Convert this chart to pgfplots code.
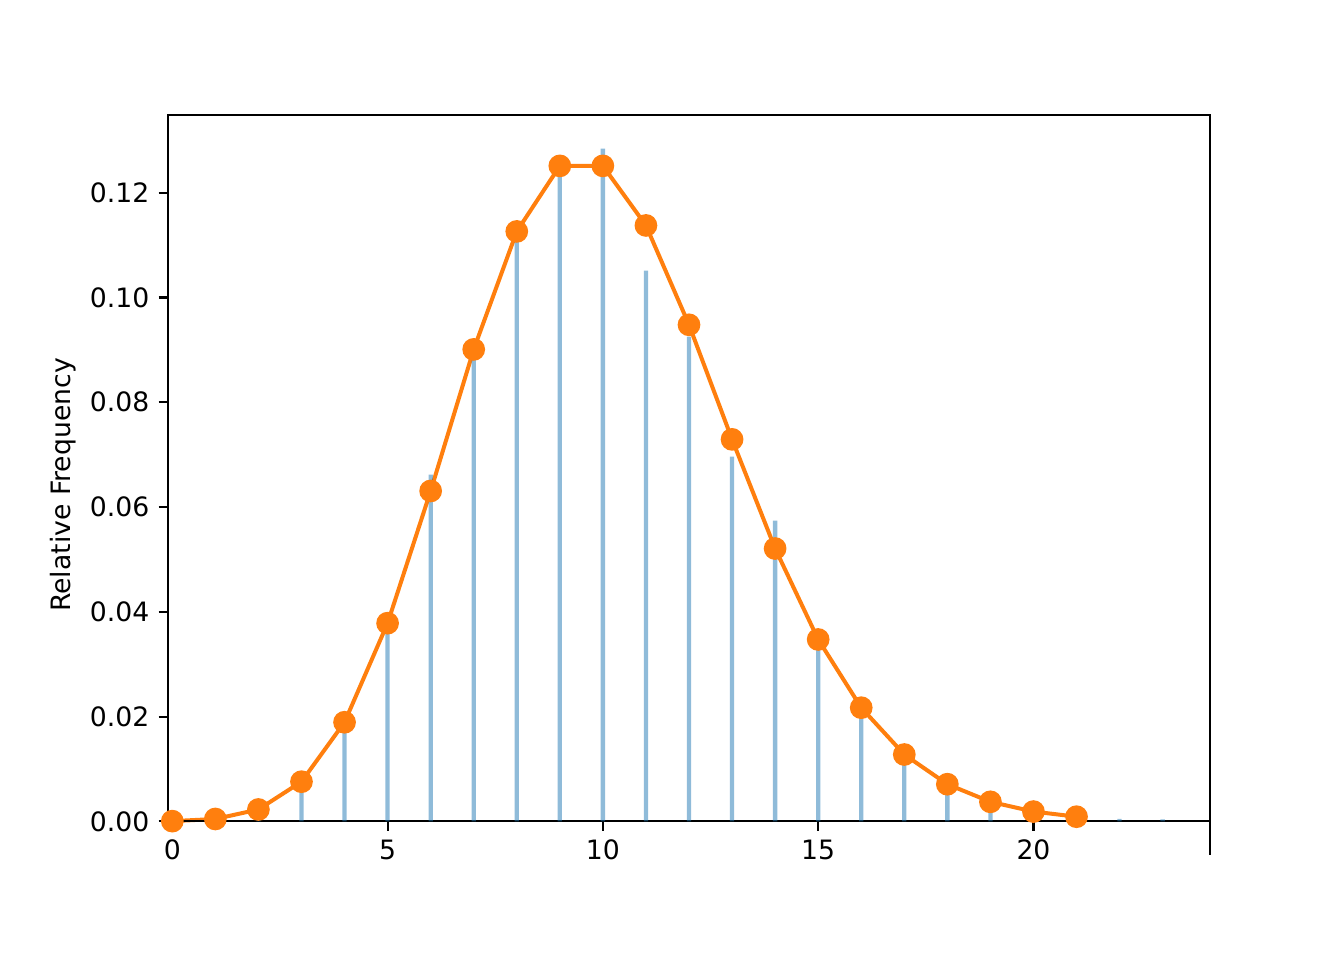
\documentclass[border=0pt]{standalone}
\usepackage{fontspec}
\setmainfont{DejaVu Sans}
\usepackage{pgfplots}
\pgfplotsset{compat=1.18}
\definecolor{mplblue}{HTML}{1F77B4}
\definecolor{mplorange}{HTML}{FF7F0E}
\begin{document}
\begin{tikzpicture}
\begin{axis}[
  set layers,
  at={(0,0)}, anchor=south west,
  scale only axis, width=390.75pt, height=277.5pt,
  xmin=-0.1, xmax=24.1, ymin=-0.00642, ymax=0.13482,
  axis x line=middle, axis y line=left,
  x axis line style={-, line width=0.8pt, black},
  y axis line style={draw=none},
  hide obscured x ticks=false, hide obscured y ticks=false,
  tick align=outside, major tick length=3.5pt,
  tick style={black, line width=0.8pt},
  xtick={0,5,10,15,20},
  ytick={0,0.02,0.04,0.06,0.08,0.10,0.12},
  yticklabel style={/pgf/number format/fixed, /pgf/number format/precision=2, /pgf/number format/fixed zerofill},
  /pgf/number format/assume math mode=true,
  scaled y ticks=false,
  tick label style={font=\fontsize{10}{12}\selectfont},
  ylabel={Relative Frequency},
  ylabel style={font=\fontsize{10}{12}\selectfont},
  every axis y label/.style={at={(rel axis cs:0,0.5)}, xshift=-39.4pt, rotate=90, anchor=center},
  clip=false,
]
\addplot[on layer=axis background, mplorange, line width=1.5pt, mark=*, mark size=3.5pt, mark options={fill=mplorange, draw=none}] coordinates {
(0,0.0000454) (1,0.000454) (2,0.00227) (3,0.00757) (4,0.01892) (5,0.03783)
(6,0.06306) (7,0.09008) (8,0.11260) (9,0.12511) (10,0.12511) (11,0.11374)
(12,0.09478) (13,0.07291) (14,0.05208) (15,0.03472) (16,0.02170) (17,0.01276)
(18,0.00709) (19,0.00373) (20,0.00187) (21,0.00089)
};
\addplot[ybar, bar width=0.1, fill=mplblue, draw=none, fill opacity=0.5] coordinates {
(2,0.0019) (3,0.0071) (4,0.0185) (5,0.0370) (6,0.0662) (7,0.0895) (8,0.1145)
(9,0.1245) (10,0.1284) (11,0.1051) (12,0.0925) (13,0.0696) (14,0.0574)
(15,0.0330) (16,0.0233) (17,0.0124) (18,0.0092) (19,0.0025) (20,0.0011)
(21,0.0006) (22,0.0005) (23,0.0004)
};
\draw[black, line width=0.8pt] (axis cs:-0.1,0) -- (rel axis cs:0,1) -- (rel axis cs:1,1) -- (rel axis cs:1,0);
\end{axis}
\path[use as bounding box] (-63pt,-39.375pt) rectangle (441pt,320.625pt);
\end{tikzpicture}
\end{document}
